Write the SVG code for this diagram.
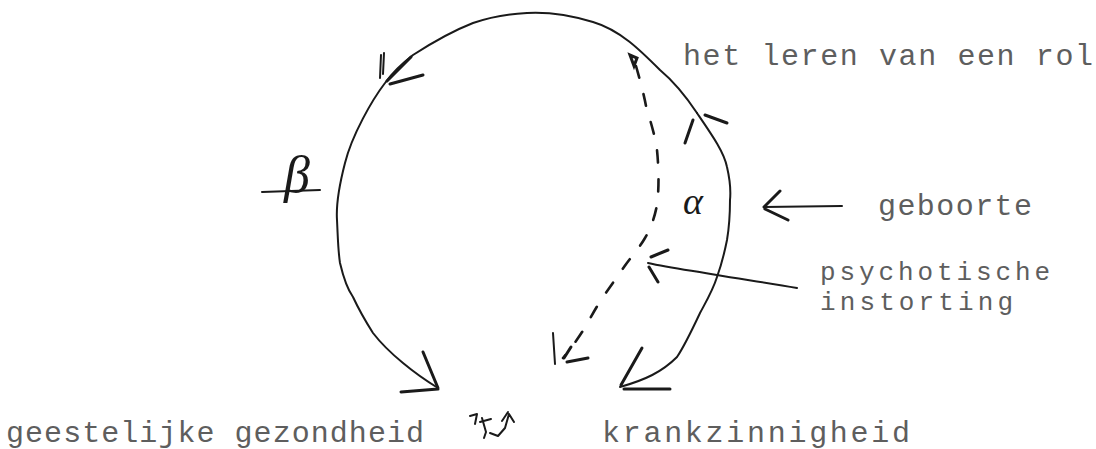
<svg xmlns="http://www.w3.org/2000/svg" width="1096" height="449" viewBox="0 0 1096 449">
<style>
.ln{fill:none;stroke:#1a1a1a;stroke-width:2;stroke-linecap:round;stroke-linejoin:round}
.bb{fill:none;stroke:#1a1a1a;stroke-width:3;stroke-linecap:round}
.ds{fill:none;stroke:#1a1a1a;stroke-width:2.6;stroke-dasharray:12 17;stroke-linecap:round}
.tx{font-family:"Liberation Mono","DejaVu Sans Mono",monospace;font-size:30px;fill:#5e5e5e}
.sm{font-size:26px}
.hw{font-family:"Liberation Serif","DejaVu Serif",serif;font-style:italic;fill:#1a1a1a}
</style>
<rect width="1096" height="449" fill="#fff"/>
<g id="connectors">
  <!-- top arc + left arc down to geestelijke gezondheid -->
  <path class="ln" d="M697,113 C685,95 672,80 660,70 C640,50 620,30 593,22 C570,15 545,12 527,13 C505,14 490,17 473,23 C450,32 430,44 413,55 C400,65 392,73 385,83 C372,100 352,135 345,163 C338,190 336,205 337,220 C338,240 338,250 340,263 C344,280 348,290 353,297 C360,312 366,322 373,333 C383,346 392,354 403,363 C415,373 425,380 438,388"/>
  <!-- top-left arrowhead -->
  <path class="bb" d="M387,81 L411,57 M390,84 L423,75"/>
  <path class="ln" d="M381,55 L380,78 M384,53 L383,74" stroke-width="1.5"/>
  <!-- bottom-left arrowhead -->
  <path class="bb" d="M438,388 L423,352 M438,389 L401,392"/>
  <!-- right arc -->
  <path class="ln" d="M697,113 C712,135 724,152 727,167 C730,180 731,190 730,200 C730,215 729,228 727,240 C724,255 721,266 717,277 C713,290 707,300 700,313 C692,330 685,345 677,357 C662,372 645,380 620,387"/>
  <!-- arrow up on right arc -->
  <path class="bb" d="M693,120 L685,143 M705,115 L727,123"/>
  <!-- bottom-right arrowhead -->
  <path class="bb" d="M621,385 L642,348 M624,389 L670,389"/>
  <!-- dashed line -->
  <path class="ds" d="M636,66 C640,80 644,95 646,106 C650,120 655,135 657,150 C659,170 659,190 657,205 C654,220 650,230 645,238 C638,250 630,258 624,267 C617,277 610,287 603,297 C597,306 592,315 587,324 C580,336 572,347 563,358"/>
  <path class="bb" d="M630,55 L634,66 L637,58 Z"/>
  <!-- dashed arrowhead -->
  <path class="bb" d="M564,358 L571,347 M567,362 L588,358"/>
  <path class="ln" d="M553,333 L555,364" stroke-width="2.5"/>
  <!-- geboorte arrow -->
  <path class="ln" d="M842,206 L764,207" stroke-width="2.5"/>
  <path class="bb" d="M764,207 L780,191 M765,209 L788,220"/>
  <!-- psychotische instorting arrow -->
  <path class="ln" d="M797,288 C770,283 740,279 717,275 C695,271 670,268 648,263"/>
  <path class="bb" d="M651,257 L668,250 M649,267 L658,282"/>
</g>
<g id="alpha"><text class="hw" x="683" y="214" font-size="38">α</text></g>
<g id="beta">
  <text class="hw" x="284" y="192" font-size="52">β</text>
  <path class="ln" d="M262,192 L320,190" stroke-width="1.5"/>
</g>
<g id="scribble"><path class="ln" stroke="#777" stroke-width="1.3" d="M470,416 L477,414 L475,424 M482,418 L486,432 L484,438 M480,422 L491,419 M490,433 L498,436 L505,428 L509,414 L514,422 M502,421 L508,412"/></g>
<g id="label-rol"><text class="tx" x="683" y="65" textLength="410">het leren van een rol</text></g>
<g id="label-geboorte"><text class="tx" x="878" y="215" textLength="154">geboorte</text></g>
<g id="label-psychotisch"><text class="tx sm" x="820" y="280" textLength="230">psychotische</text><text class="tx sm" x="820" y="310" textLength="193">instorting</text></g>
<g id="label-gezond"><text class="tx" x="6" y="442" textLength="418">geestelijke gezondheid</text></g>
<g id="label-krank"><text class="tx" x="602" y="442" textLength="308">krankzinnigheid</text></g>
</svg>
